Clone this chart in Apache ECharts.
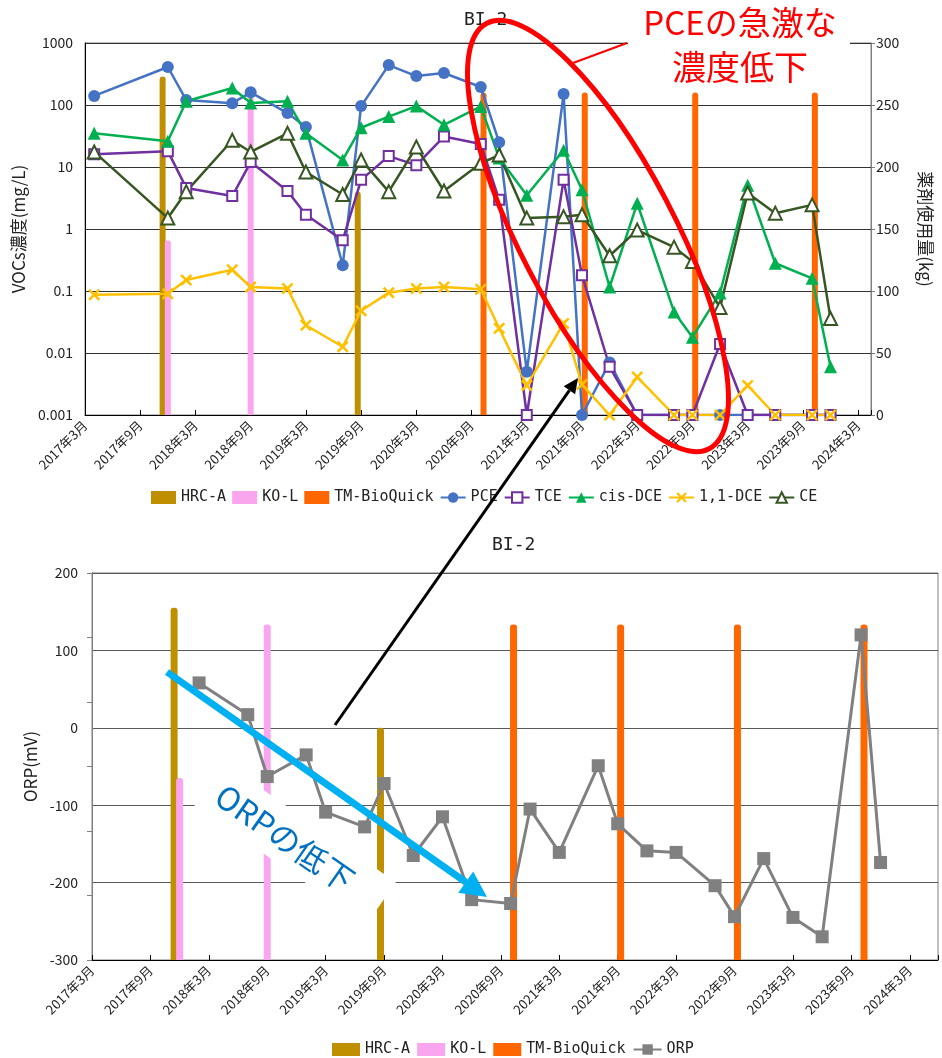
<!DOCTYPE html>
<html><head><meta charset="utf-8">
<script src="https://cdn.jsdelivr.net/npm/echarts@6.0.0/dist/echarts.min.js"></script>
<style>html,body{margin:0;padding:0;background:#fff}#c{width:942px;height:1058px}</style>
</head><body><div id="c"></div>
<script>
// ---- data ----
const xTickLabels = ['2017年3月','2017年9月','2018年3月','2018年9月','2019年3月','2019年9月','2020年3月','2020年9月','2021年3月','2021年9月','2022年3月','2022年9月','2023年3月','2023年9月','2024年3月'];
const vocDates = ['2017-04','2017-12','2018-02','2018-07','2018-09','2019-01','2019-03','2019-07','2019-09','2019-12','2020-03','2020-06','2020-10','2020-12','2021-03','2021-07','2021-09','2021-12','2022-03','2022-07','2022-09','2022-12','2023-03','2023-06','2023-10','2023-12'];
const pce    = [140,410,120,107,160,74,44,0.26,96,440,293,328,195,25,0.005,150,0.001,0.007,0.001,0.001,0.001,0.001,0.001,0.001,0.001,0.001];
const tce    = [16,18,4.6,3.4,12,4.1,1.7,0.66,6.2,15,10.7,31,23.5,2.95,0.001,6.2,0.18,0.006,0.001,0.001,0.001,0.014,0.001,0.001,0.001,0.001];
const cisDce = [35,26,115,188,108,115,35,13,43,65,96,48,95,14,3.5,18.6,4.3,0.116,2.6,0.046,0.018,0.093,5.1,0.28,0.16,0.006];
const dce11  = [0.087,0.09,0.15,0.22,0.116,0.11,0.028,0.0126,0.048,0.094,0.11,0.116,0.107,0.025,0.003,0.03,0.0031,0.001,0.0041,0.001,0.001,0.001,0.003,0.001,0.001,0.001];
const ceVals = [17.5,1.5,4,27,17.5,35,8.3,3.6,13,4,21,4.1,11.5,15.6,1.5,1.57,1.7,0.37,0.96,0.51,0.3,0.054,3.8,1.8,2.45,0.036];
const orpDates = ['2018-02','2018-07','2018-09','2019-01','2019-03','2019-07','2019-09','2019-12','2020-03','2020-06','2020-10','2020-12','2021-03','2021-07','2021-09','2021-12','2022-03','2022-07','2022-09','2022-12','2023-03','2023-06','2023-10','2023-12'];
const orp = [58,17,-63,-35,-109,-128,-72,-165,-115,-222,-227,-105,-161,-49,-124,-159,-161,-204,-244,-169,-245,-270,120,-174];
const hrcDates = ['2017-11-14','2019-08-20'];
const hrcKg    = [273,180];
const koDates  = ['2017-12-01','2018-09-01'];
const koKg     = [141,260];
const tmDates  = ['2020-10-10','2021-09-10','2022-09-10','2023-10-10'];
const tmKg     = [260,260,260,260];

// ---- helpers ----
function toM(s){const p=s.split('-').map(Number);return (p[0]-2017)*12+(p[1]-3)+((p[2]||1)-1)/30;}
function pairs(dates,vals){return dates.map((d,i)=>[toM(d),vals[i]]);}
const FONT = "'Noto Sans CJK JP',sans-serif";
const MONO = "'DejaVu Sans Mono',monospace";
function xFmt(v){const k=v/6;if(Math.abs(k-Math.round(k))>1e-6)return '';return xTickLabels[Math.round(k)]||'';}
function logFmt(v){const e=Math.round(Math.log10(v));return e>=0?String(Math.pow(10,e)):Math.pow(10,e).toFixed(-e);}
function xAxisCfg(grid,max){return {type:'value',gridIndex:grid,min:0,max:max,interval:6,
  axisLine:{show:true,onZero:false,lineStyle:{color:'#000'}},axisTick:{show:true,inside:true,length:5,lineStyle:{color:'#000'}},
  splitLine:{show:false},axisLabel:{rotate:45,fontSize:13,color:'#222',margin:8,fontFamily:FONT,formatter:xFmt,showMinLabel:true,showMaxLabel:true}};}
function bar(name,dates,vals,color,xi,yi,w){return {name,type:'bar',xAxisIndex:xi,yAxisIndex:yi,data:pairs(dates,vals),
  barWidth:w,barGap:'-100%',itemStyle:{color,borderRadius:[3,3,0,0]},z:1};}
function line(name,dates,vals,color,symbol,size,empty,xi,yi){return {name,type:'line',xAxisIndex:xi,yAxisIndex:yi,data:pairs(dates,vals),
  symbol,symbolSize:size,showSymbol:true,lineStyle:{color,width:2.5},
  itemStyle:empty?{color:color,borderColor:color,borderWidth:2}:{color},z:3};}
const XPATH='path://M0,1.5L1.5,0L5,3.5L8.5,0L10,1.5L6.5,5L10,8.5L8.5,10L5,6.5L1.5,10L0,8.5L3.5,5Z';

function arrow(x1,y1,x2,y2,color,w,hl,hw){
  const dx=x2-x1,dy=y2-y1,L=Math.hypot(dx,dy),ux=dx/L,uy=dy/L;
  const bx=x2-ux*hl,by=y2-uy*hl,px=-uy,py=ux;
  return [{type:'line',shape:{x1,y1,x2:bx,y2:by},style:{stroke:color,lineWidth:w},z:100},
          {type:'polygon',shape:{points:[[x2,y2],[bx+px*hw,by+py*hw],[bx-px*hw,by-py*hw]]},style:{fill:color},z:100}];
}

const chart = echarts.init(document.getElementById('c'),null,{renderer:'canvas'});
const nameStyle = {fontSize:17,color:'#222',fontFamily:FONT};
const option = {
  animation:false,
  backgroundColor:'#fff',
  textStyle:{fontFamily:FONT},
  title:[
    {text:'BI-2',left:459,top:6,textStyle:{fontFamily:MONO,fontSize:18,fontWeight:'normal',color:'#222'}},
    {text:'BI-2',left:487,top:531,textStyle:{fontFamily:MONO,fontSize:18,fontWeight:'normal',color:'#222'}}
  ],
  grid:[
    {left:85,top:43,width:791,height:372,show:true,borderColor:'#7f7f7f',borderWidth:1,containLabel:false},
    {left:92,top:573,width:846,height:387,show:true,borderColor:'#7f7f7f',borderWidth:1,containLabel:false}
  ],
  legend:[
    {data:[{name:'HRC-A',icon:'rect'},{name:'KO-L',icon:'rect'},{name:'TM-BioQuick',icon:'rect'},'PCE','TCE','cis-DCE','1,1-DCE','CE'],
     left:146,top:485,itemWidth:25,itemHeight:13,itemGap:6,textStyle:{fontSize:15,color:'#222',fontFamily:MONO}},
    {data:[{name:'HRC-A',icon:'rect'},{name:'KO-L',icon:'rect'},{name:'TM-BioQuick',icon:'rect'},'ORP'],
     left:327,top:1037,itemWidth:28,itemHeight:13,itemGap:7,textStyle:{fontSize:15,color:'#222',fontFamily:MONO}}
  ],
  xAxis:[xAxisCfg(0,85.4),xAxisCfg(1,86.9)],
  yAxis:[
    {type:'log',logBase:10,gridIndex:0,min:0.001,max:1000,splitNumber:6,
     axisLine:{show:true,lineStyle:{color:'#000'}},axisTick:{show:false},
     splitLine:{show:true,lineStyle:{color:'#333',width:1}},
     axisLabel:{fontSize:14,color:'#222',margin:12,fontFamily:FONT,formatter:logFmt},
     name:'VOCs濃度(mg/L)',nameLocation:'middle',nameGap:54,nameTextStyle:nameStyle},
    {type:'value',gridIndex:0,position:'right',min:0,max:300,interval:50,
     axisLine:{show:true,lineStyle:{color:'#808080'}},axisTick:{show:true,inside:false,length:4,lineStyle:{color:'#808080'}},
     splitLine:{show:false},axisLabel:{fontSize:14,color:'#222',margin:5,fontFamily:FONT},
     name:'薬剤使用量(kg)',nameLocation:'middle',nameRotate:-90,nameGap:46,nameTextStyle:nameStyle},
    {type:'value',gridIndex:1,min:-300,max:200,interval:100,
     axisLine:{show:true,onZero:false,lineStyle:{color:'#000'}},axisTick:{show:false},
     splitLine:{show:true,lineStyle:{color:'#595959',width:1}},
     axisLabel:{fontSize:14,color:'#222',margin:14,fontFamily:FONT},
     name:'ORP(mV)',nameLocation:'middle',nameGap:50,nameTextStyle:nameStyle},
    {type:'value',gridIndex:1,position:'right',min:0,max:300,interval:50,
     axisLine:{show:true,lineStyle:{color:'#808080'}},axisTick:{show:true,inside:true,length:5,lineStyle:{color:'#808080'}},
     splitLine:{show:false},axisLabel:{show:false}}
  ],
  series:[
    bar('HRC-A',hrcDates,hrcKg,'#BF8F00',0,1,6),
    bar('KO-L',koDates,koKg,'#F9A6EE',0,1,6),
    bar('TM-BioQuick',tmDates,tmKg,'#FF6600',0,1,6),
    line('PCE',vocDates,pce,'#4472C4','circle',12,false,0,0),
    line('TCE',vocDates,tce,'#7030A0','emptyRect',10,true,0,0),
    line('cis-DCE',vocDates,cisDce,'#00B050','triangle',13,false,0,0),
    line('1,1-DCE',vocDates,dce11,'#FFC000',XPATH,12,false,0,0),
    line('CE',vocDates,ceVals,'#375623','emptyTriangle',13,true,0,0),
    bar('HRC-A',hrcDates,hrcKg,'#BF8F00',1,3,7),
    bar('KO-L',koDates,koKg,'#F9A6EE',1,3,7),
    bar('TM-BioQuick',tmDates,tmKg,'#FF6600',1,3,7),
    Object.assign(line('ORP',orpDates,orp,'#808080','rect',13,false,1,2),{lineStyle:{color:'#808080',width:3}})
  ],
  graphic:[
    {type:'rect',shape:{x:628,y:0,width:222,height:90},style:{fill:'#fff'},z:99},
    {type:'text',x:740,y:22,style:{text:'PCEの急激な',fill:'#FF0000',font:'33px "Noto Sans CJK JP"',align:'center',verticalAlign:'middle'},z:100},
    {type:'text',x:740,y:67,style:{text:'濃度低下',fill:'#FF0000',font:'34px "Noto Sans CJK JP"',align:'center',verticalAlign:'middle'},z:100},
    {type:'line',shape:{x1:573,y1:63,x2:627,y2:43},style:{stroke:'#FF0000',lineWidth:2},z:100},
    {type:'ellipse',x:598,y:236,rotation:-62.4*Math.PI/180,shape:{cx:0,cy:0,rx:240,ry:77},style:{fill:'none',stroke:'#FF0000',lineWidth:5},z:100},
    ...arrow(335,725,578,378,'#000',3,15,7),
    {type:'rect',x:294,y:843,rotation:-0.609,shape:{x:-106,y:-26,width:212,height:52},style:{fill:'#fff'},z:99},
    {type:'text',x:285,y:838,rotation:-0.609,style:{text:'ORPの低下',fill:'#0070C0',font:'32px "Noto Sans CJK JP"',align:'center',verticalAlign:'middle'},z:100},
    ...arrow(167,672,487,897,'#00B0F0',7,26,13)
  ]
};
chart.setOption(option);
</script></body></html>
